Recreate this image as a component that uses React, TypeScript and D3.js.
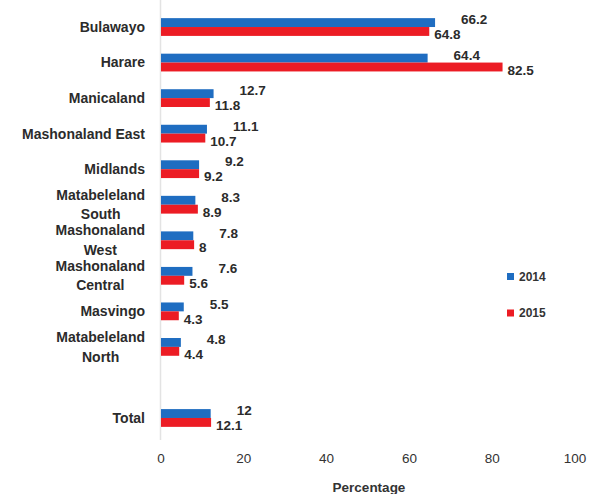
import React, { useEffect, useRef } from "react";
import * as d3 from "d3";

const categories = [
  "Bulawayo",
  "Harare",
  "Manicaland",
  "Mashonaland East",
  "Midlands",
  "Matabeleland South",
  "Mashonaland West",
  "Mashonaland Central",
  "Masvingo",
  "Matabeleland North",
  "",
  "Total",
];
const labelLines = [
  ["Bulawayo"],
  ["Harare"],
  ["Manicaland"],
  ["Mashonaland East"],
  ["Midlands"],
  ["Matabeleland", "South"],
  ["Mashonaland", "West"],
  ["Mashonaland", "Central"],
  ["Masvingo"],
  ["Matabeleland", "North"],
  [],
  ["Total"],
];
const values2014 = [66.2, 64.4, 12.7, 11.1, 9.2, 8.3, 7.8, 7.6, 5.5, 4.8, null, 12];
const values2015 = [64.8, 82.5, 11.8, 10.7, 9.2, 8.9, 8, 5.6, 4.3, 4.4, null, 12.1];
const seriesNames = ["2014", "2015"];
const seriesColors = ["#1f6dc1", "#ec1c24"];
const xTicks = [0, 20, 40, 60, 80, 100];
const xTitle = "Percentage";

const W = 594;
const H = 494;
const FONT = "'Liberation Sans', Arial, sans-serif";

export default function App() {
  const ref = useRef<SVGSVGElement>(null);

  useEffect(() => {
    const svg = d3.select(ref.current);
    svg.selectAll("*").remove();

    const keys = categories.map((c, i) => c || `blank${i}`);
    const x = d3.scaleLinear().domain([0, 100]).range([161, 575]);
    const y = d3
      .scaleBand<string>()
      .domain(keys)
      .range([9.25, 435.75])
      .paddingInner(0.5)
      .paddingOuter(0.25);
    const ys = d3.scaleBand<string>().domain(seriesNames).range([0, y.bandwidth()]);

    // axis line
    svg
      .append("line")
      .attr("x1", x(0) - 0.5)
      .attr("x2", x(0) - 0.5)
      .attr("y1", 0)
      .attr("y2", 440)
      .attr("stroke", "#e3e3e3")
      .attr("stroke-width", 1.5);

    const series = [values2014, values2015];

    series.forEach((vals, si) => {
      const name = seriesNames[si];
      keys.forEach((k, i) => {
        const v = vals[i];
        if (v == null) return;
        const top = (y(k) as number) + (ys(name) as number);
        svg
          .append("rect")
          .attr("x", x(0))
          .attr("y", top)
          .attr("width", x(v) - x(0))
          .attr("height", ys.bandwidth())
          .attr("fill", seriesColors[si]);
      });
    });

    // value labels
    series.forEach((vals, si) => {
      const name = seriesNames[si];
      keys.forEach((k, i) => {
        const v = vals[i];
        if (v == null) return;
        const cy = (y(k) as number) + (ys(name) as number) + ys.bandwidth() / 2;
        svg
          .append("text")
          .attr("x", x(v) + (si === 0 ? 26 : 5))
          .attr("y", cy + (si === 0 ? -3 : 3))
          .attr("dy", "0.35em")
          .attr("font-family", FONT)
          .attr("font-size", 13.5)
          .attr("font-weight", "bold")
          .attr("fill", "#2b2b2b")
          .text(String(v));
      });
    });

    // category labels
    const right = 145;
    keys.forEach((k, i) => {
      const lines = labelLines[i];
      if (!lines.length) return;
      const cy = (y(k) as number) + y.bandwidth() / 2;
      const g = svg.append("g");
      const texts = lines.map((ln, li) =>
        g
          .append("text")
          .attr("y", cy + (li - (lines.length - 1) / 2) * 19.5)
          .attr("dy", "0.35em")
          .attr("font-family", FONT)
          .attr("font-size", 14)
          .attr("font-weight", "bold")
          .attr("fill", "#2b2b2b")
          .attr("text-anchor", "middle")
          .text(ln)
      );
      const widths = texts.map((t) => (t.node() as SVGTextElement).getComputedTextLength());
      const maxW = Math.max(...widths);
      texts.forEach((t) => t.attr("x", right - maxW / 2));
    });

    // x tick labels
    xTicks.forEach((t) => {
      svg
        .append("text")
        .attr("x", x(t))
        .attr("y", 458)
        .attr("dy", "0.35em")
        .attr("text-anchor", "middle")
        .attr("font-family", FONT)
        .attr("font-size", 13.5)
        .attr("fill", "#333")
        .text(String(t));
    });

    svg
      .append("text")
      .attr("x", 369)
      .attr("y", 487)
      .attr("dy", "0.35em")
      .attr("text-anchor", "middle")
      .attr("font-family", FONT)
      .attr("font-size", 13.5)
      .attr("font-weight", "bold")
      .attr("fill", "#333")
      .text(xTitle);

    // legend
    const legY = d3.scalePoint<string>().domain(seriesNames).range([276.5, 313]);
    seriesNames.forEach((n, i) => {
      const cy = legY(n) as number;
      svg
        .append("rect")
        .attr("x", 507)
        .attr("y", cy - 3.5)
        .attr("width", 7)
        .attr("height", 7)
        .attr("fill", seriesColors[i]);
      svg
        .append("text")
        .attr("x", 519)
        .attr("y", cy)
        .attr("dy", "0.35em")
        .attr("font-family", FONT)
        .attr("font-size", 12)
        .attr("font-weight", "bold")
        .attr("fill", "#333")
        .text(n);
    });
  }, []);

  return (
    <svg
      ref={ref}
      width={W}
      height={H}
      style={{ position: "absolute", left: 0, top: 0, background: "#fff" }}
    />
  );
}
